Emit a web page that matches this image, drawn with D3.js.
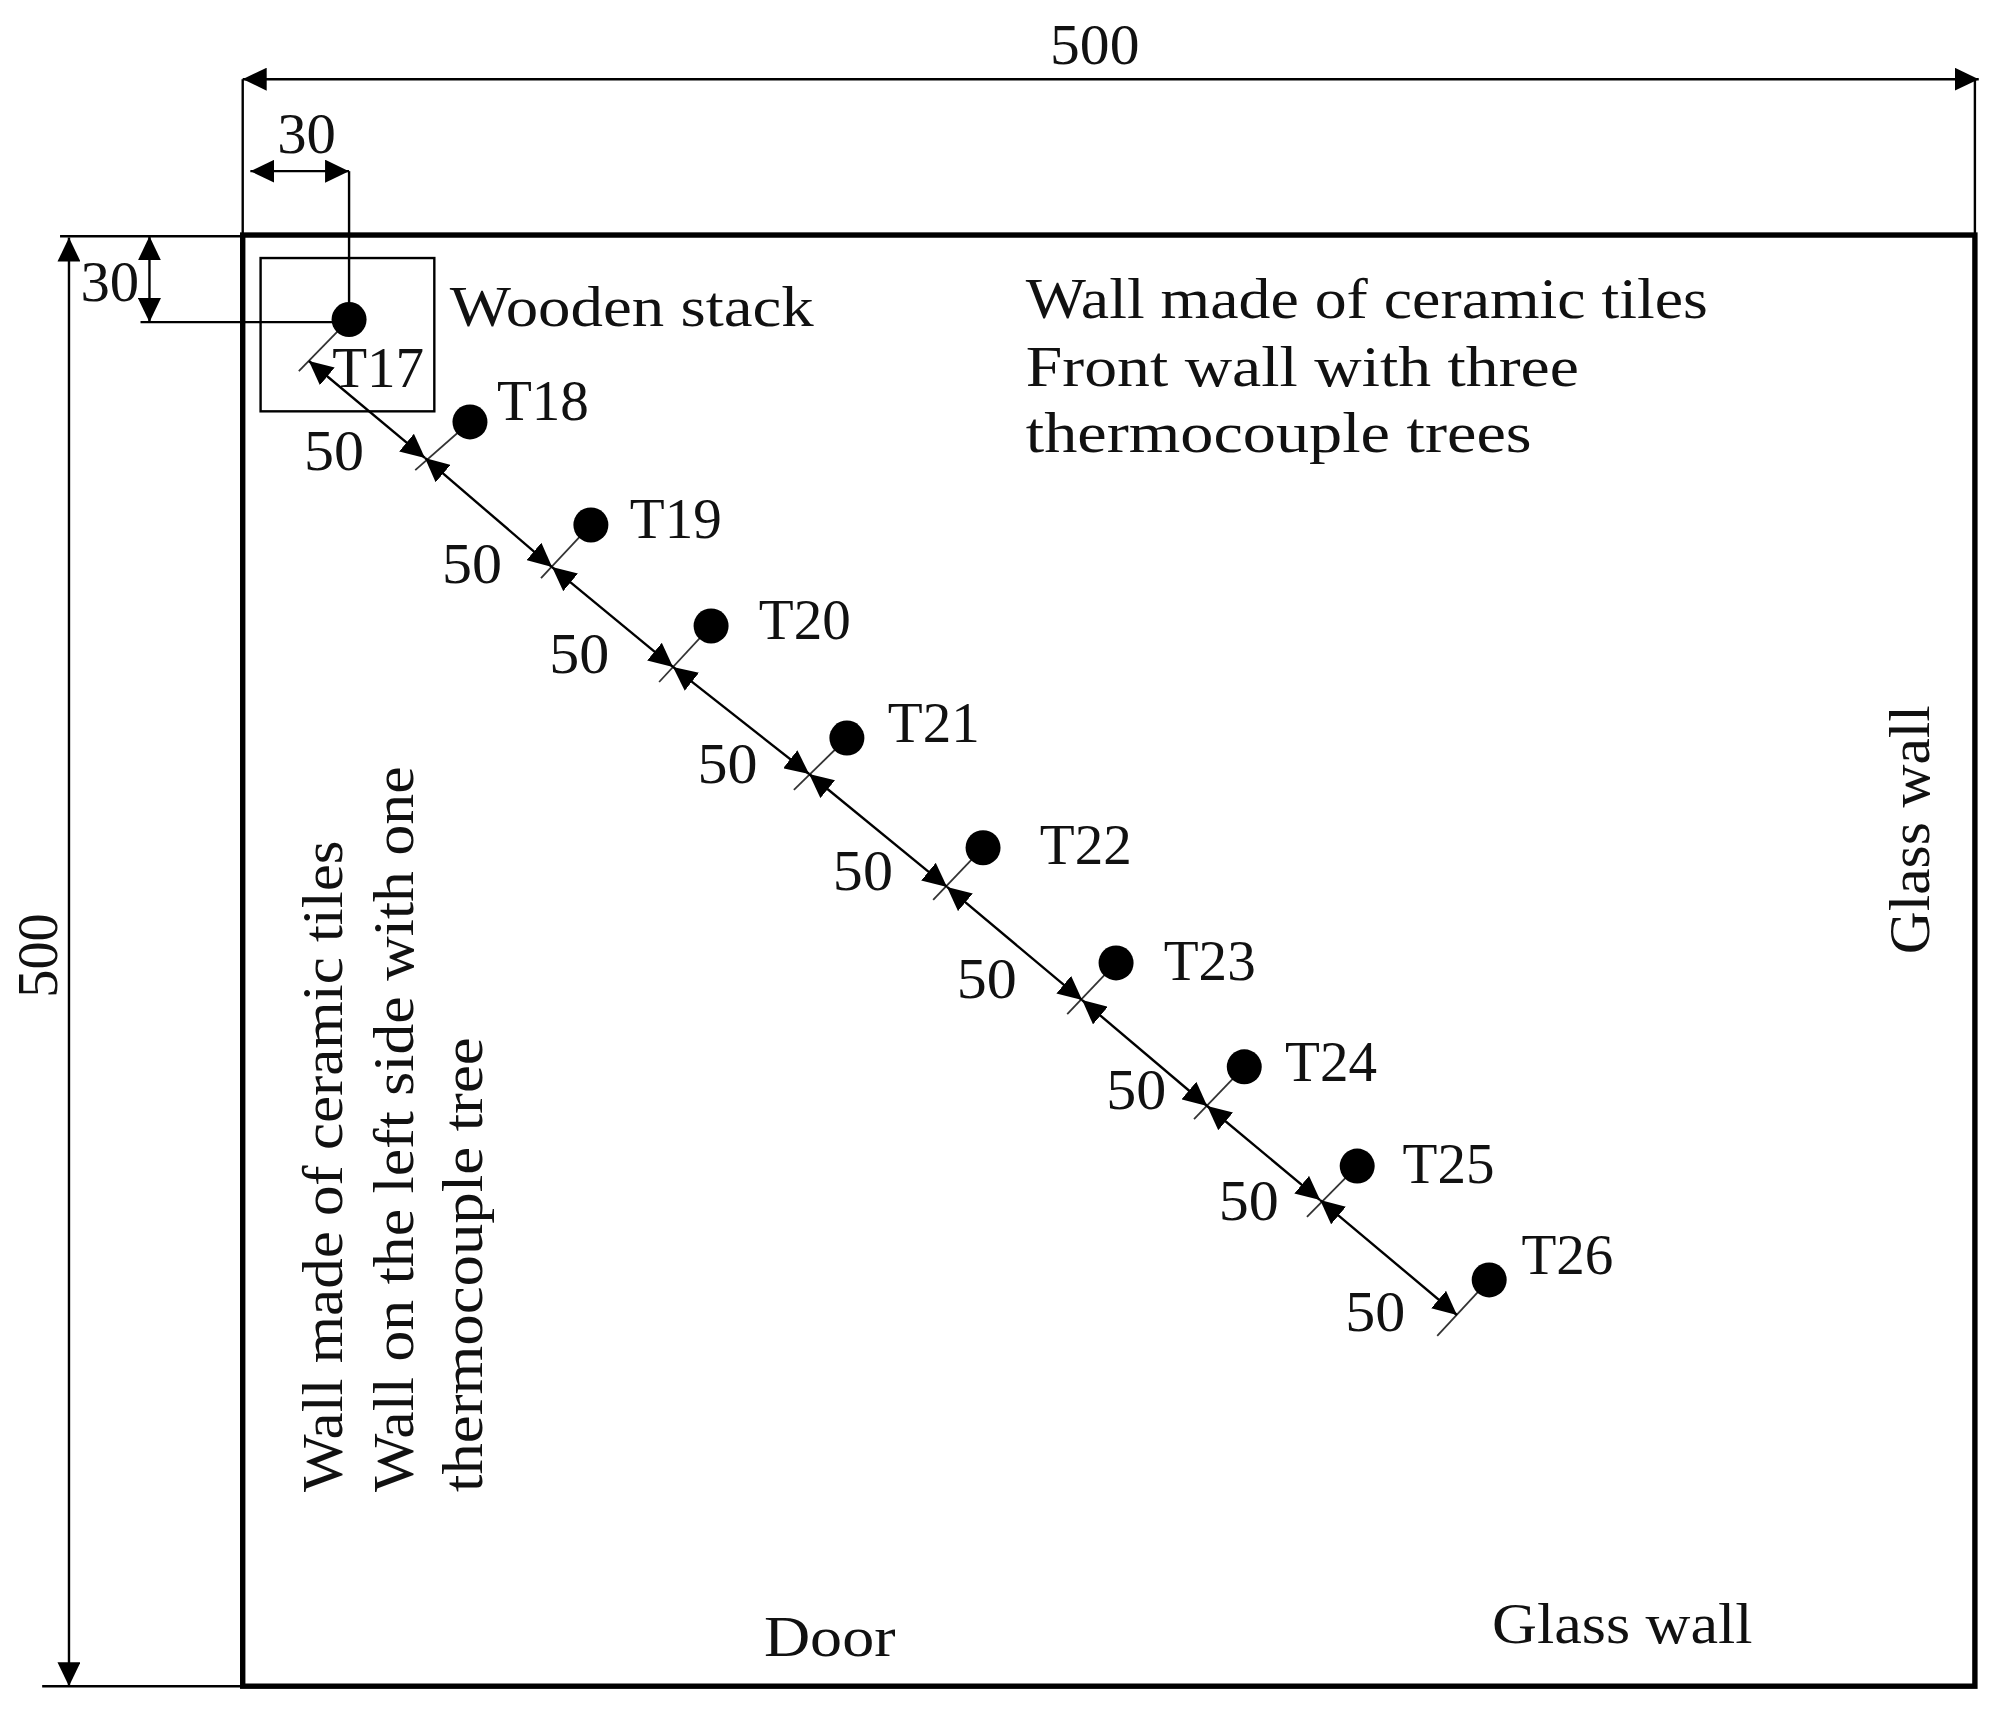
<!DOCTYPE html>
<html>
<head>
<meta charset="utf-8">
<script src="https://d3js.org/d3.v7.min.js"></script>
<style>
    html, body { margin: 0; padding: 0; background: #fff; }
    svg { display: block; }
    text { font-family: "Liberation Serif", serif; fill: #111; }
</style>
</head>
<body>
<div id="plano"></div>
<script>
// room in mm
const roomSize = 500;
const cornerOffset = 30;
const sensorNames = ['T17', 'T18', 'T19', 'T20', 'T21', 'T22', 'T23', 'T24', 'T25', 'T26'];
const sensorX = [30.7, 65.6, 100.5, 135.2, 174.4, 213.7, 252.1, 289.1, 321.7, 359.8];
const sensorY = [29.1, 64.4, 99.9, 134.7, 173.3, 211.1, 250.8, 286.6, 320.8, 360.0];
// where the spacing arrows meet the sensor leaders
const stationX = [19.1, 52.6, 89.3, 124.2, 163.5, 203.3, 242.3, 278.4, 311, 350.5];
const stationY = [43.4, 76.8, 114.4, 148.8, 185.7, 224.6, 263.6, 300.1, 332.5, 372.1];
// far end of each leader
const footX = [16.2, 49.8, 86.1, 120.2, 159.1, 199.3, 238, 274.6, 307.2, 344.8];
const footY = [46.9, 81, 118.2, 154, 191.2, 229.1, 268.4, 304.6, 338.3, 379.3];
const spacingLabel = '50';

const wallFront = ['Wall made of ceramic tiles', 'Front wall with three', 'thermocouple trees'];
const wallLeft = ['Wall made of ceramic tiles', 'Wall on the left side with one', 'thermocouple tree'];

const width = 2003;
const height = 1723;
const k = width / 1568; // layout below was measured on a 1568 wide copy
const thin = 2.4;
const thick = 5.4;

const x = d3.scaleLinear().domain([0, roomSize]).range([190 * k, 1546 * k]);
const y = d3.scaleLinear().domain([0, roomSize]).range([184 * k, 1320 * k]);

const svg = d3.select('#plano').append('svg')
    .attr('width', width)
    .attr('height', height);

svg.append('defs').append('marker')
    .attr('id', 'head')
    .attr('viewBox', '0 0 20 20')
    .attr('refX', 20)
    .attr('refY', 10)
    .attr('markerWidth', 24)
    .attr('markerHeight', 23)
    .attr('markerUnits', 'userSpaceOnUse')
    .attr('preserveAspectRatio', 'none')
    .attr('orient', 'auto-start-reverse')
    .append('path')
    .attr('d', 'M0,0L20,10L0,20Z')
    .attr('fill', '#000');

function line(x1, y1, x2, y2, arrows, w) {
    const l = svg.append('line')
        .attr('x1', x1).attr('y1', y1)
        .attr('x2', x2).attr('y2', y2)
        .attr('stroke', '#000')
        .attr('stroke-width', w || thin);
    if (arrows) {
        l.attr('marker-start', 'url(#head)').attr('marker-end', 'url(#head)');
    }
    return l;
}

// left end, baseline and width in layout units; rotated text runs upward from its start
function label(str, lx, ly, len, rotated) {
    const t = svg.append('text')
        .text(str)
        .attr('font-size', 58)
        .attr('textLength', len * k)
        .attr('lengthAdjust', 'spacingAndGlyphs');
    if (rotated) {
        t.attr('transform', `translate(${lx * k}, ${ly * k}) rotate(-90)`);
    } else {
        t.attr('x', lx * k).attr('y', ly * k);
    }
    return t;
}

// room outline
svg.append('rect')
    .attr('x', x(0))
    .attr('y', y(0))
    .attr('width', x(roomSize) - x(0))
    .attr('height', y(roomSize) - y(0))
    .attr('fill', 'none')
    .attr('stroke', '#000')
    .attr('stroke-width', thick);

// wooden stack
svg.append('rect')
    .attr('x', 204 * k)
    .attr('y', 202 * k)
    .attr('width', 136 * k)
    .attr('height', 120 * k)
    .attr('fill', 'none')
    .attr('stroke', '#000')
    .attr('stroke-width', thin);

// outer dimensions
line(x(0), 62 * k, 1549 * k, 62 * k, true);
line(x(0), 62 * k, x(0), y(0));
line(x(roomSize), 62 * k, x(roomSize), y(0));
line(54 * k, 186 * k, 54 * k, y(roomSize), true);
line(47 * k, 185 * k, x(0), 185 * k);
line(33 * k, y(roomSize), x(0), y(roomSize));

// 30 from the corner
line(196 * k, 134 * k, x(sensorX[0]), 134 * k, true);
line(x(sensorX[0]), 134 * k, x(sensorX[0]), y(sensorY[0]));
line(117 * k, 185 * k, 117 * k, y(cornerOffset), true);
line(110 * k, y(cornerOffset), x(sensorX[0]), y(cornerOffset));

// sensor leaders, dots and names
const nameLeft = [260, 389, 493, 594, 695, 814, 911, 1006, 1098, 1191];
const nameBase = [303, 329, 421, 500, 581, 676, 767, 846, 926, 997];

sensorNames.forEach((name, i) => {
    line(x(sensorX[i]), y(sensorY[i]), x(footX[i]), y(footY[i]), false, 1.8).attr('stroke', '#333');
    svg.append('circle')
        .attr('cx', x(sensorX[i]))
        .attr('cy', y(sensorY[i]))
        .attr('r', 17.5)
        .attr('fill', '#000');
    label(name, nameLeft[i], nameBase[i], 72);
});

// spacing arrows
const spacingLeft = [238, 346, 430, 546, 652, 749, 866, 954, 1053];
const spacingBase = [368, 456, 527, 613, 697, 781, 868, 955, 1042];

for (let index = 0; index < stationX.length - 1; index += 1) {
    line(x(stationX[index]), y(stationY[index]), x(stationX[index + 1]), y(stationY[index + 1]), true);
    label(spacingLabel, spacingLeft[index], spacingBase[index], 47);
}

// dimension numbers
label(String(roomSize), 822, 50, 70);
label(String(roomSize), 45, 781, 66, true);
label(String(cornerOffset), 217, 120, 46);
label(String(cornerOffset), 63, 236, 46);

// notes
label('Wooden stack', 352, 255, 285);
label(wallFront[0], 803, 249, 534);
label(wallFront[1], 803, 302, 433);
label(wallFront[2], 803, 354, 396);
label('Door', 598, 1296, 103);
label('Glass wall', 1168, 1286, 204);
label('Glass wall', 1510, 747, 195, true);
label(wallLeft[0], 268, 1168, 510, true);
label(wallLeft[1], 323, 1168, 568, true);
label(wallLeft[2], 377, 1168, 356, true);
</script>
</body>
</html>
